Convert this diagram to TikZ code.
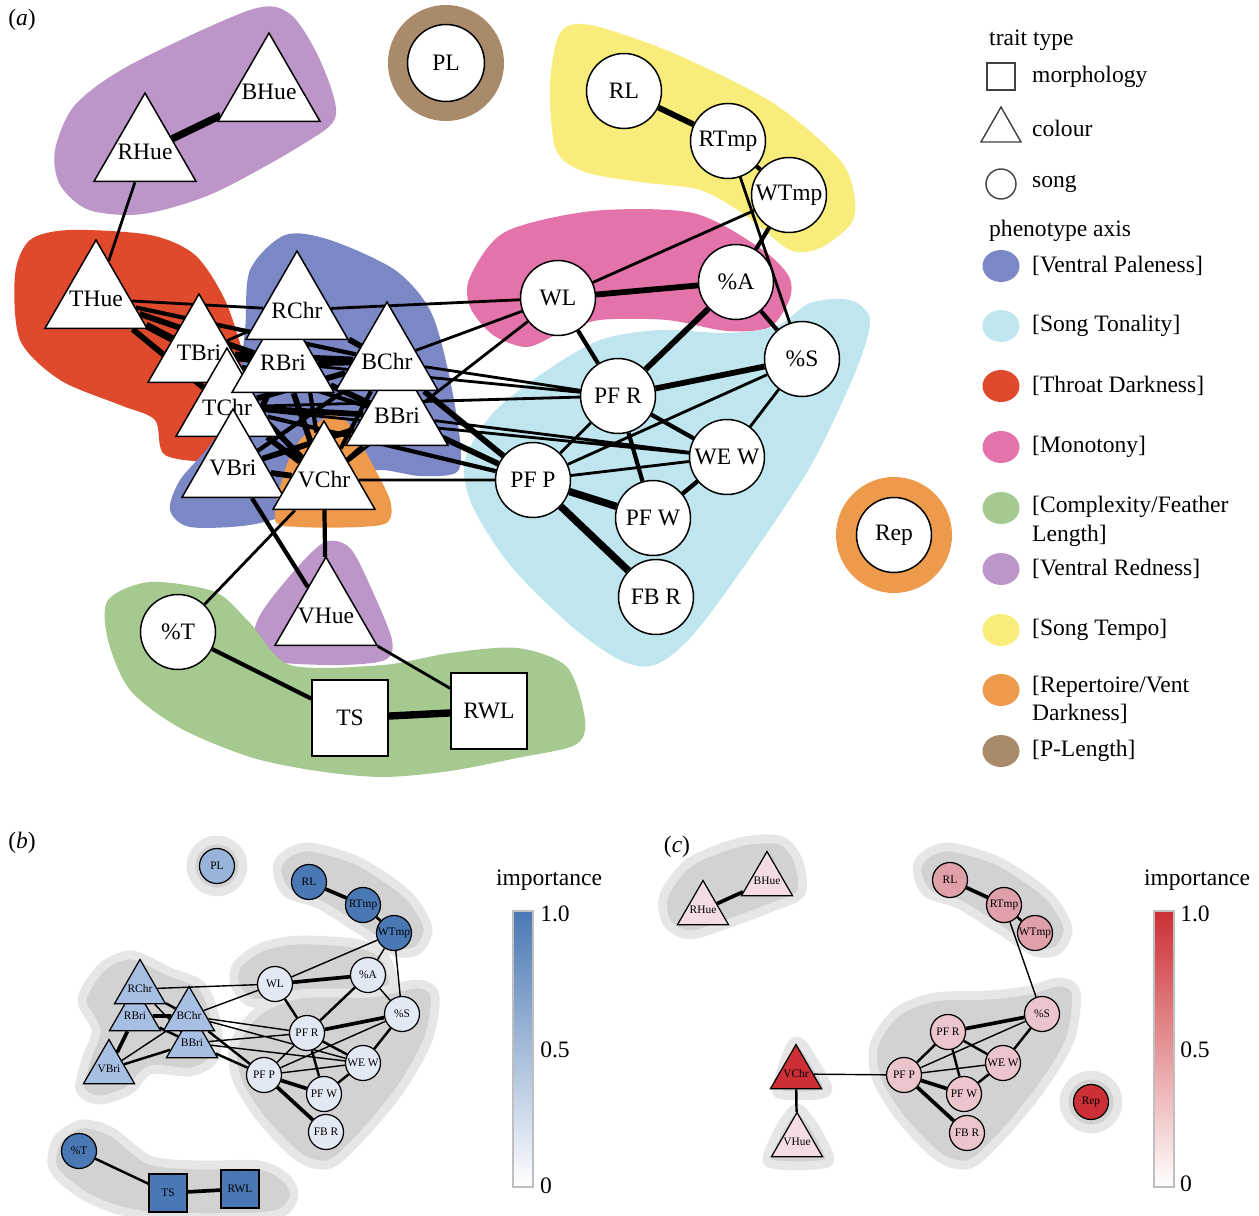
\documentclass[tikz,border=0pt]{standalone}
\usepackage{fontspec}
\setmainfont{Liberation Serif}
\usepackage{xcolor}
\definecolor{paleness}{HTML}{7C87C6}
\definecolor{tonality}{HTML}{BFE6EE}
\definecolor{throat}{HTML}{E04A2C}
\definecolor{monotony}{HTML}{E473AA}
\definecolor{complexity}{HTML}{A5C98E}
\definecolor{redness}{HTML}{BC96C8}
\definecolor{tempo}{HTML}{F8EC7A}
\definecolor{repertoire}{HTML}{EE9A4C}
\definecolor{plength}{HTML}{A98B6B}
\definecolor{impblue}{HTML}{4A78B4}
\definecolor{midblue}{HTML}{A7BFE2}
\definecolor{paleblue}{HTML}{E3E9F4}
\definecolor{impred}{HTML}{CC2F35}
\definecolor{midred}{HTML}{DFA0AA}
\definecolor{softred}{HTML}{ECC4CB}
\definecolor{palered}{HTML}{F3DDE3}
\definecolor{halo}{HTML}{D2D2D2}
\newcommand{\biglab}{\fontsize{13.4}{16.4}\selectfont}
\newcommand{\tinylab}{\fontsize{6.5}{7}\selectfont}
\usepackage{tikz}
\usetikzlibrary{shapes.geometric}
\pgfdeclarelayer{blobs}
\pgfdeclarelayer{links}
\pgfsetlayers{blobs,links,main}

\begin{document}
\begin{tikzpicture}[x=0.02cm, y=-0.02cm, font=\biglab,
  tri/.style={regular polygon, regular polygon sides=3, draw, fill=white, line width=0.85pt, inner sep=-14pt, minimum size=2.36cm},
  song/.style={circle, draw, fill=white, line width=0.85pt, inner sep=0pt, minimum size=1.5cm},
  morph/.style={rectangle, draw, fill=white, line width=0.85pt, inner sep=0pt, minimum size=1.52cm},
  stri/.style={regular polygon, regular polygon sides=3, draw, line width=0.7pt, inner sep=-7pt, minimum size=1.18cm, font=\tinylab},
  ssong/.style={circle, draw, line width=0.7pt, inner sep=0pt, minimum size=0.7cm, font=\tinylab},
  smorph/.style={rectangle, draw, line width=0.7pt, inner sep=0pt, minimum size=0.76cm, font=\tinylab},
  lk1/.style={line width=1.6pt},
  lk2/.style={line width=2.4pt},
  lk3/.style={line width=3.3pt},
  lk4/.style={line width=4.2pt},
  sk1/.style={line width=0.8pt},
  sk2/.style={line width=1.4pt},
  sk3/.style={line width=2.1pt},
  haze/.style={fill=halo, draw=halo!55, line width=5pt, line join=round}]
  \useasboundingbox (0,0) rectangle (1259,1216);

  % --- Panel (a): phenotype axes ---
  \node at (22,20) {(\textit{a})};
  \begin{pgfonlayer}{blobs}
    \fill[redness] plot[smooth cycle] coordinates {(55,150) (75,105) (130,65) (250,10) (290,14) (320,60) (336,115) (305,143) (214,193) (143,214) (89,210) (60,185)};
    \fill[plength] (446,63) circle[radius=58];
    \fill[tempo] plot[smooth cycle] coordinates {(560,33) (590,25) (673,53) (773,103) (840,160) (855,200) (850,225) (820,248) (790,250) (745,215) (700,190) (640,182) (585,172) (556,150) (550,85)};
    \fill[monotony] plot[smooth cycle] coordinates {(470,277) (505,232) (593,211) (693,213) (760,248) (788,275) (790,298) (770,327) (727,331) (667,320) (600,320) (560,333) (527,347) (493,335) (470,307)};
    \fill[tonality] plot[smooth cycle] coordinates {(600,340) (660,330) (727,333) (777,326) (810,303) (850,300) (870,320) (855,373) (810,467) (745,565) (693,635) (655,665) (620,660) (570,625) (510,565) (472,505) (465,460) (493,413) (543,373)};
    \fill[throat] plot[smooth cycle] coordinates {(15,275) (30,240) (70,230) (150,235) (195,255) (225,300) (245,360) (260,420) (270,455) (220,462) (165,455) (155,420) (120,405) (60,380) (20,340)};
    \fill[paleness] plot[smooth cycle] coordinates {(285,235) (330,240) (395,270) (430,310) (448,370) (460,440) (457,472) (420,476) (380,470) (350,480) (300,510) (250,525) (190,527) (170,510) (180,480) (210,445) (235,400) (245,330) (250,270)};
    \fill[repertoire] plot[smooth cycle] coordinates {(300,440) (330,415) (350,425) (370,460) (390,500) (388,522) (360,527) (300,527) (275,520) (285,470)};
    \fill[redness] plot[smooth cycle] coordinates {(325,542) (350,548) (372,590) (392,640) (385,660) (340,665) (275,662) (252,650) (260,615) (295,570)};
    \fill[complexity] plot[smooth cycle] coordinates {(108,600) (150,582) (215,592) (250,623) (290,665) (383,665) (450,653) (517,648) (567,667) (585,720) (575,745) (517,758) (450,771) (383,777) (317,771) (250,757) (180,728) (130,690) (108,640)};
    \fill[repertoire] (894,535) circle[radius=58];
  \end{pgfonlayer}

  % colour traits
  \node[tri] (aBHue) at (269,92) {BHue};
  \node[tri] (aRHue) at (145,152) {RHue};
  \node[tri] (aTHue) at (96,299) {THue};
  \node[tri] (aTBri) at (199,353) {TBri};
  \node[tri] (aTChr) at (227,407) {TChr};
  \node[tri] (aRBri) at (283,363) {RBri};
  \node[tri] (aRChr) at (297,310) {RChr};
  \node[tri] (aBBri) at (397,416) {BBri};
  \node[tri] (aBChr) at (387,361) {BChr};
  \node[tri] (aVBri) at (233,468) {VBri};
  \node[tri] (aVChr) at (324,480) {VChr};
  \node[tri] (aVHue) at (326,616) {VHue};

  % song traits
  \node[song, minimum size=1.54cm] (aPL) at (446,63) {PL};
  \node[song] (aRL) at (624,91) {RL};
  \node[song] (aRTmp) at (728,141) {RTmp};
  \node[song] (aWTmp) at (789,195) {WTmp};
  \node[song] (aWL) at (558,298) {WL};
  \node[song] (aPctA) at (736,282) {\%A};
  \node[song] (aPctS) at (802,359) {\%S};
  \node[song] (aPFR) at (618,396) {PF R};
  \node[song] (aWEW) at (727,457) {WE W};
  \node[song] (aPFP) at (533,480) {PF P};
  \node[song] (aPFW) at (653,518) {PF W};
  \node[song] (aFBR) at (656,597) {FB R};
  \node[song] (aRep) at (894,535) {Rep};
  \node[song] (aPctT) at (178,632) {\%T};

  % morphology traits
  \node[morph] (aTS) at (350,718) {TS};
  \node[morph] (aRWL) at (489,711) {RWL};

  \begin{pgfonlayer}{links}
    \draw[lk1] (aRHue) -- (aTHue) (aRTmp) -- (aPctS) (aWTmp) -- (aWL) (aPctS) -- (aPFP)
      (aPctS) -- (aWEW) (aPFR) -- (aPFP) (aPFP) -- (aWEW) (aTHue) -- (aRChr) (aRChr) -- (aWL)
      (aBChr) -- (aWL) (aVChr) -- (aWL) (aBChr) -- (aPFR) (aRBri) -- (aPFR) (aTChr) -- (aPFR)
      (aBBri) -- (aWEW) (aTChr) -- (aWEW) (aVChr) -- (aPFP) (aTBri) -- (aRChr) (aRChr) -- (aTChr)
      (aVChr) -- (aPctT) (aVHue) -- (aRWL);
    \draw[lk2] (aRTmp) -- (aWTmp) (aWTmp) -- (aPctA) (aPctA) -- (aPctS) (aWL) -- (aPFR)
      (aPFR) -- (aWEW) (aPFR) -- (aPFW) (aWEW) -- (aPFW) (aBBri) -- (aPFP) (aTChr) -- (aPFP)
      (aTHue) -- (aBChr) (aTBri) -- (aBBri) (aRChr) -- (aRBri) (aRChr) -- (aVChr)
      (aBChr) -- (aVBri) (aBChr) -- (aVChr) (aTChr) -- (aVBri) (aBBri) -- (aVChr)
      (aVBri) -- (aVHue) (aVChr) -- (aVHue) (aPctT) -- (aTS);
    \draw[lk3] (aRL) -- (aRTmp) (aWL) -- (aPctA) (aPctA) -- (aPFR) (aPctS) -- (aPFR)
      (aRBri) -- (aPFP) (aBChr) -- (aPFP) (aTHue) -- (aRBri) (aTHue) -- (aTChr)
      (aTBri) -- (aBChr) (aTBri) -- (aTChr) (aTBri) -- (aVChr) (aRChr) -- (aBChr)
      (aRBri) -- (aVBri) (aRBri) -- (aVChr) (aRBri) -- (aBBri) (aBChr) -- (aTChr)
      (aTChr) -- (aBBri) (aTChr) -- (aVChr) (aBBri) -- (aVBri) (aVBri) -- (aVChr);
    \draw[lk4] (aRHue) -- (aBHue) (aPFP) -- (aPFW) (aPFP) -- (aFBR) (aTHue) -- (aTBri)
      (aTBri) -- (aRBri) (aRBri) -- (aBChr) (aTS) -- (aRWL);
  \end{pgfonlayer}

  % --- Legend ---
  \node[anchor=west] at (983,40) {trait type};
  \draw[line width=0.8pt, black!75] (987,63) rectangle (1015,90);
  \node[anchor=west] at (1026,77) {morphology};
  \draw[line width=0.8pt, black!75] (981,142) -- (1001,107) -- (1021,142) -- cycle;
  \node[anchor=west] at (1026,128) {colour};
  \draw[line width=0.8pt, black!75] (1001,184) circle[radius=15];
  \node[anchor=west] at (1026,184) {song};
  \node[anchor=west] at (983,231) {phenotype axis};
  \fill[paleness] (1001,266) circle[x radius=18.5, y radius=16];
  \node[anchor=west] at (1026,266) {[Ventral Paleness]};
  \fill[tonality] (1001,326) circle[x radius=18.5, y radius=16];
  \node[anchor=west] at (1026,326) {[Song Tonality]};
  \fill[throat] (1001,386) circle[x radius=18.5, y radius=16];
  \node[anchor=west] at (1026,386) {[Throat Darkness]};
  \fill[monotony] (1001,447) circle[x radius=18.5, y radius=16];
  \node[anchor=west] at (1026,447) {[Monotony]};
  \fill[complexity] (1001,508) circle[x radius=18.5, y radius=16];
  \node[anchor=west, align=left] at (1026,521) {[Complexity/Feather\\Length]};
  \fill[redness] (1001,569) circle[x radius=18.5, y radius=16];
  \node[anchor=west] at (1026,569) {[Ventral Redness]};
  \fill[tempo] (1001,630) circle[x radius=18.5, y radius=16];
  \node[anchor=west] at (1026,630) {[Song Tempo]};
  \fill[repertoire] (1001,690) circle[x radius=18.5, y radius=16];
  \node[anchor=west, align=left] at (1026,700) {[Repertoire/Vent\\Darkness]};
  \fill[plength] (1001,751) circle[x radius=18.5, y radius=16];
  \node[anchor=west] at (1026,751) {[P-Length]};

  % --- Panel (b): importance, blue ---
  \node at (22,843) {(\textit{b})};
  \begin{pgfonlayer}{blobs}
    \filldraw[haze] (217,866) circle[radius=26];
    \filldraw[haze] plot[smooth cycle] coordinates {(285,855) (310,847) (360,862) (408,895) (428,928) (418,950) (395,952) (360,930) (320,905) (287,893) (277,870)};
    \filldraw[haze] plot[smooth cycle] coordinates {(237,965) (262,947) (300,940) (360,944) (385,957) (393,988) (370,998) (330,994) (290,998) (252,1003) (235,985)};
    \filldraw[haze] plot[smooth cycle] coordinates {(234,1045) (257,1012) (300,994) (370,993) (418,984) (435,996) (428,1040) (400,1090) (360,1138) (330,1164) (300,1158) (262,1120) (237,1080)};
    \filldraw[haze] plot[smooth cycle] coordinates {(82,1000) (102,967) (132,955) (170,972) (203,987) (218,1030) (213,1060) (190,1072) (150,1070) (130,1090) (100,1100) (80,1090) (86,1060) (96,1030)};
    \filldraw[haze] plot[smooth cycle] coordinates {(57,1140) (82,1124) (112,1132) (150,1160) (200,1165) (260,1165) (288,1180) (293,1200) (268,1216) (150,1216) (92,1200) (54,1170)};
  \end{pgfonlayer}

  \node[stri, fill=midblue] (bRBri) at (135,1016) {RBri};
  \node[stri, fill=midblue] (bRChr) at (140,989) {RChr};
  \node[stri, fill=midblue] (bBBri) at (192,1043) {BBri};
  \node[stri, fill=midblue] (bBChr) at (189,1016) {BChr};
  \node[stri, fill=midblue] (bVBri) at (109,1069) {VBri};
  \node[ssong, fill=midblue!85!impblue] (bPL) at (217,866) {PL};
  \node[ssong, fill=impblue] (bRL) at (309,882) {RL};
  \node[ssong, fill=impblue] (bRTmp) at (363,905) {RTmp};
  \node[ssong, fill=impblue] (bWTmp) at (394,933) {WTmp};
  \node[ssong, fill=paleblue] (bWL) at (275,984) {WL};
  \node[ssong, fill=paleblue] (bPctA) at (368,975) {\%A};
  \node[ssong, fill=paleblue] (bPctS) at (402,1014) {\%S};
  \node[ssong, fill=paleblue] (bPFR) at (307,1033) {PF R};
  \node[ssong, fill=paleblue] (bWEW) at (363,1063) {WE W};
  \node[ssong, fill=paleblue] (bPFP) at (264,1075) {PF P};
  \node[ssong, fill=paleblue] (bPFW) at (324,1094) {PF W};
  \node[ssong, fill=paleblue] (bFBR) at (326,1132) {FB R};
  \node[ssong, fill=impblue] (bPctT) at (79,1151) {\%T};
  \node[smorph, fill=impblue] (bTS) at (168,1193) {TS};
  \node[smorph, fill=impblue] (bRWL) at (240,1189) {RWL};

  \begin{pgfonlayer}{links}
    \draw[sk1] (bRChr) -- (bWL) (bBChr) -- (bWL) (bWTmp) -- (bWL) (bWTmp) -- (bPctA) (bWTmp) -- (bPctS)
      (bPctA) -- (bPctS) (bBChr) -- (bPFR) (bBBri) -- (bPFR) (bBBri) -- (bWEW) (bBChr) -- (bWEW)
      (bPctS) -- (bPFP) (bPFP) -- (bWEW) (bPFR) -- (bPFP) (bRChr) -- (bBBri) (bVBri) -- (bBChr);
    \draw[sk2] (bWL) -- (bPFR) (bPFR) -- (bPFW) (bWEW) -- (bPFW) (bPctS) -- (bWEW) (bPFR) -- (bWEW)
      (bRTmp) -- (bWTmp) (bPctT) -- (bTS) (bVBri) -- (bBBri) (bBChr) -- (bPFP) (bBBri) -- (bPFP)
      (bRChr) -- (bBChr) (bRBri) -- (bBBri) (bPctA) -- (bPFR);
    \draw[sk3] (bRL) -- (bRTmp) (bWL) -- (bPctA) (bPctS) -- (bPFR) (bPFP) -- (bPFW) (bPFP) -- (bFBR)
      (bRBri) -- (bBChr) (bRBri) -- (bVBri) (bTS) -- (bRWL);
  \end{pgfonlayer}

  \node at (549,880) {importance};
  \shade[bottom color=white, top color=impblue] (513,911) rectangle (533,1187);
  \draw[black!25, line width=0.6pt] (513,911) rectangle (533,1187);
  \node at (555,914) {1.0};
  \node at (555,1050) {0.5};
  \node at (546,1186) {0};

  % --- Panel (c): importance, red ---
  \node at (677,847) {(\textit{c})};
  \begin{pgfonlayer}{blobs}
    \filldraw[haze] plot[smooth cycle] coordinates {(664,895) (690,862) (740,842) (780,840) (798,860) (801,893) (770,908) (730,923) (690,935) (667,923)};
    \filldraw[haze] plot[smooth cycle] coordinates {(925,855) (950,847) (1000,862) (1048,895) (1068,928) (1058,950) (1035,952) (1000,930) (960,905) (927,893) (917,870)};
    \filldraw[haze] plot[smooth cycle] coordinates {(874,1045) (897,1012) (935,997) (990,995) (1030,990) (1058,982) (1076,992) (1070,1040) (1040,1090) (1000,1138) (970,1164) (940,1158) (902,1120) (877,1080)};
    \filldraw[haze] plot[smooth cycle] coordinates {(777,1086) (790,1047) (800,1042) (813,1060) (828,1088) (818,1095) (782,1095)};
    \filldraw[haze] plot[smooth cycle] coordinates {(767,1158) (781,1126) (797,1108) (814,1126) (830,1158) (818,1165) (777,1165)};
    \filldraw[haze] (1091,1102) circle[radius=27];
  \end{pgfonlayer}

  \node[stri, fill=palered] (cRHue) at (703,910) {RHue};
  \node[stri, fill=palered] (cBHue) at (767,881) {BHue};
  \node[stri, fill=impred] (cVChr) at (796,1074) {VChr};
  \node[stri, fill=palered] (cVHue) at (797,1142) {VHue};
  \node[ssong, fill=midred] (cRL) at (950,880) {RL};
  \node[ssong, fill=midred] (cRTmp) at (1004,905) {RTmp};
  \node[ssong, fill=midred] (cWTmp) at (1035,933) {WTmp};
  \node[ssong, fill=softred] (cPctS) at (1042,1014) {\%S};
  \node[ssong, fill=softred] (cPFR) at (948,1032) {PF R};
  \node[ssong, fill=softred] (cWEW) at (1003,1063) {WE W};
  \node[ssong, fill=softred] (cPFP) at (904,1075) {PF P};
  \node[ssong, fill=softred] (cPFW) at (964,1094) {PF W};
  \node[ssong, fill=softred] (cFBR) at (967,1133) {FB R};
  \node[ssong, fill=impred] (cRep) at (1091,1102) {Rep};

  \begin{pgfonlayer}{links}
    \draw[sk1] (cRTmp) -- (cPctS) (cPctS) -- (cPFP) (cPFP) -- (cWEW) (cVChr) -- (cPFP);
    \draw[sk2] (cRTmp) -- (cWTmp) (cPctS) -- (cWEW) (cPFR) -- (cPFP) (cPFR) -- (cWEW) (cPFR) -- (cPFW)
      (cWEW) -- (cPFW) (cVChr) -- (cVHue);
    \draw[sk3] (cRHue) -- (cBHue) (cRL) -- (cRTmp) (cPctS) -- (cPFR) (cPFP) -- (cPFW) (cPFP) -- (cFBR);
  \end{pgfonlayer}

  \node at (1197,880) {importance};
  \shade[bottom color=white, top color=impred] (1154,911) rectangle (1174,1187);
  \draw[black!25, line width=0.6pt] (1154,911) rectangle (1174,1187);
  \node at (1195,914) {1.0};
  \node at (1195,1050) {0.5};
  \node at (1186,1184) {0};
\end{tikzpicture}
\end{document}
